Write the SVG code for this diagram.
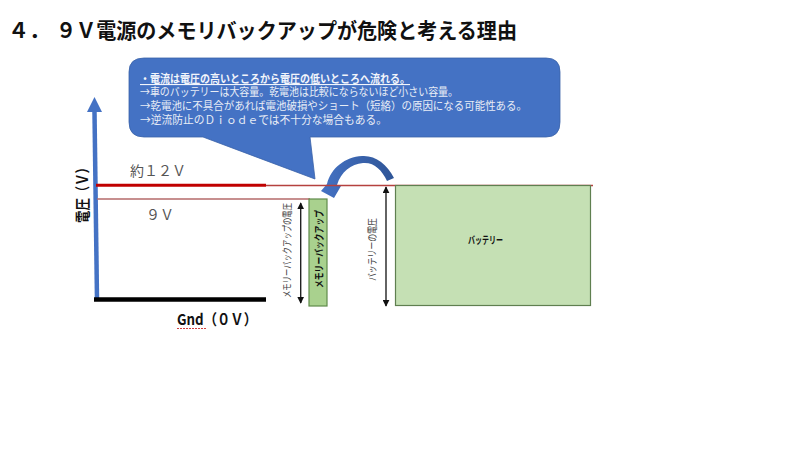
<svg xmlns="http://www.w3.org/2000/svg" width="800" height="451" viewBox="0 0 800 451">
<defs>
<marker id="ah" viewBox="0 0 10 10" refX="9" refY="5" markerWidth="7" markerHeight="7" markerUnits="userSpaceOnUse" orient="auto-start-reverse"><path d="M0 0L10 5L0 10Z" fill="#111"/></marker>
<linearGradient id="curve" x1="0" y1="0" x2="1" y2="0"><stop offset="0" stop-color="#4472c4"/><stop offset="1" stop-color="#2f5597"/></linearGradient>
</defs>
<style>
text{font-family:"Noto Sans CJK JP","Liberation Sans",sans-serif}
.t{font-size:21px;font-weight:700;fill:#111}
.c{font-size:11px;fill:#e8edf6}
.v{font-size:14px;fill:#555}
.s{font-size:10px;fill:#444}
.b{font-size:10px;font-weight:700;fill:#111}
.ax{font-size:15px;font-weight:700;fill:#111}
.dim{stroke:#222;stroke-width:1.4;fill:none;marker-start:url(#ah);marker-end:url(#ah)}
</style>
<rect width="800" height="451" fill="#fff"/>
<g id="title">
<text class="t" x="8" y="38">４．</text>
<text class="t" x="56" y="38" textLength="461" lengthAdjust="spacingAndGlyphs">９Ｖ電源のメモリバックアップが危険と考える理由</text>
</g>
<g id="connectors">
<path d="M97 300L94.500 112" stroke="#4472c4" stroke-width="4.500" fill="none"/>
<path d="M87 112L94.500 97L102 112Z" fill="#4472c4"/>
<path d="M94 299.500H266" stroke="#000" stroke-width="4.500" fill="none"/>
<path d="M96 185.300H266" stroke="#c00000" stroke-width="3" fill="none"/>
<path d="M97 199H310" stroke="#b46a6a" stroke-width="1.500" fill="none"/>
<path class="dim" d="M300.700 203V303"/>
<path class="dim" d="M386 187V306"/>
<path d="M394 178C387 164 375 155 362 156C345 157 331 168 327 184L321 191L334 198L341 186L337 185C341 172 351 164 363 163C374 162 382 170 387 181Z" fill="url(#curve)"/>
<path d="M266 185.500H593" stroke="#b5413f" stroke-width="1.300" fill="none"/>
</g>
<g id="callout">
<path d="M144 58H546Q560 58 560 72V122Q560 137 546 137H310L315 179L203 137H144Q129 137 129 122V72Q129 58 144 58Z" fill="#4472c4" stroke="#3a62a8" stroke-width="0.800"/>
<text class="c" x="140" y="83" textLength="270" lengthAdjust="spacingAndGlyphs" style="font-weight:700;fill:#f2f5fb" text-decoration="underline">・電流は電圧の高いところから電圧の低いところへ流れる。</text>
<text class="c" x="140" y="96" textLength="318" lengthAdjust="spacingAndGlyphs">→車のバッテリーは大容量。乾電池は比較にならないほど小さい容量。</text>
<text class="c" x="140" y="110" textLength="387" lengthAdjust="spacingAndGlyphs">→乾電池に不具合があれば電池破損やショート（短絡）の原因になる可能性ある。</text>
<text class="c" x="140" y="124" textLength="247" lengthAdjust="spacingAndGlyphs">→逆流防止のＤｉｏｄｅでは不十分な場合もある。</text>
</g>
<g id="axis-labels">
<text class="ax" transform="translate(88 223) rotate(-90)" textLength="62" lengthAdjust="spacingAndGlyphs">電圧（Ｖ）</text>
<text class="v" x="130" y="176">約１２Ｖ</text>
<text class="v" x="146" y="220">９Ｖ</text>
<text class="ax" x="177" y="325" textLength="80" lengthAdjust="spacingAndGlyphs">Gnd（０Ｖ）</text>
<path d="M177 328.500h30" stroke="#d04040" stroke-width="1" stroke-dasharray="2 1" fill="none"/>
</g>
<g id="memory-backup">
<rect x="309" y="199" width="18" height="107" fill="#a9d18e" stroke="#5f8a4a" stroke-width="1.200"/>
<text class="b" transform="translate(322.500 288) rotate(-90)" textLength="78" lengthAdjust="spacingAndGlyphs">メモリーバックアップ</text>
<text class="s" transform="translate(291 298) rotate(-90)" textLength="95" lengthAdjust="spacingAndGlyphs">メモリーバックアップの電圧</text>
</g>
<g id="battery">
<rect x="395.500" y="185.500" width="195" height="120" fill="#c5e0b4" stroke="#5f7f50" stroke-width="1.200"/>
<text class="b" x="468" y="244" textLength="35" lengthAdjust="spacingAndGlyphs">バッテリー</text>
<text class="s" transform="translate(376 281) rotate(-90)" textLength="63" lengthAdjust="spacingAndGlyphs">バッテリーの電圧</text>
</g>
</svg>
